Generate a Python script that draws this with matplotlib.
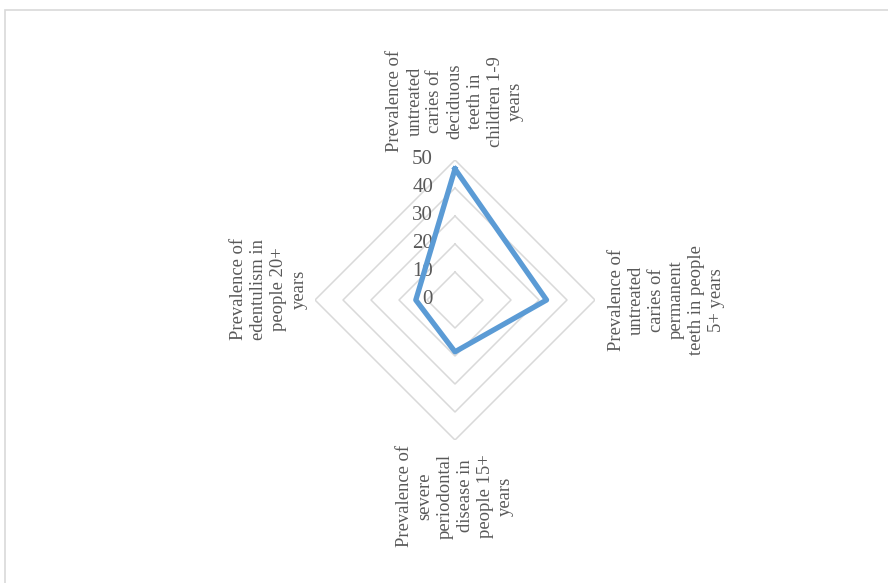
import matplotlib
matplotlib.use("Agg")
import matplotlib.pyplot as plt
import matplotlib.transforms as mtransforms
from matplotlib.patches import Rectangle
import numpy as np

plt.rcParams['font.family'] = ['Liberation Serif', 'DejaVu Serif']

# data
categories = [
    "Prevalence of\nuntreated\ncaries of\ndeciduous\nteeth in\nchildren 1-9\nyears",
    "Prevalence of\nuntreated\ncaries of\npermanent\nteeth in people\n5+ years",
    "Prevalence of\nsevere\nperiodontal\ndisease in\npeople 15+\nyears",
    "Prevalence of\nedentulism in\npeople 20+\nyears",
]
values = [46.8, 32.7, 18.5, 14.0]
rings = [10, 20, 30, 40, 50]
tick_labels = ["0", "10", "20", "30", "40", "50"]

text_color = '#595959'
grid_color = '#d9d9d9'
line_color = '#5B9BD5'

fig = plt.figure(figsize=(8.88, 5.83), dpi=100)
fig.patches.append(Rectangle((5 / 888, -0.05), 1.1, 1.05 - 10 / 583, transform=fig.transFigure,
                             fill=False, edgecolor=grid_color, linewidth=1.2))

ax = fig.add_axes([315 / 888, 143 / 583, 280 / 888, 280 / 583], projection='polar')
ax.set_theta_offset(np.pi / 2)
ax.set_theta_direction(-1)
ax.set_ylim(0, 50)
ax.grid(False)
ax.set_xticks([])
ax.set_yticks([])
ax.spines['polar'].set_visible(False)
ax.patch.set_alpha(0)

angles = np.arange(len(categories)) * 2 * np.pi / len(categories)
closed = np.append(angles, angles[0])

# grid diamonds
for r in rings:
    ax.plot(closed, [r] * len(closed), color=grid_color, lw=1.1, zorder=1)

# data line
vals = np.append(values, values[0])
ax.plot(closed, vals, color=line_color, lw=3.8, solid_joinstyle='round', zorder=3)

# radial tick labels
tick_tr = mtransforms.offset_copy(ax.transData, fig=fig, x=-22, y=0, units='dots')
for i, lab in enumerate(tick_labels):
    ax.text(0, i * 10, lab, transform=tick_tr, ha='right', va='center',
            fontsize=15, color=text_color, zorder=2)

# category labels
offsets = [(0, 0), (0, 0), (0, 0), (0, 11)]
radii = [71, 75.5, 70, 66.5]
for ang, lab, r, (dx, dy) in zip(angles, categories, radii, offsets):
    tr = mtransforms.offset_copy(ax.transData, fig=fig, x=dx, y=dy, units='dots')
    ax.text(ang, r, lab, transform=tr, rotation=90, ha='center', va='center',
            multialignment='center', fontsize=13.4, color=text_color, linespacing=1.24)

fig.savefig("out.png", dpi=100)
